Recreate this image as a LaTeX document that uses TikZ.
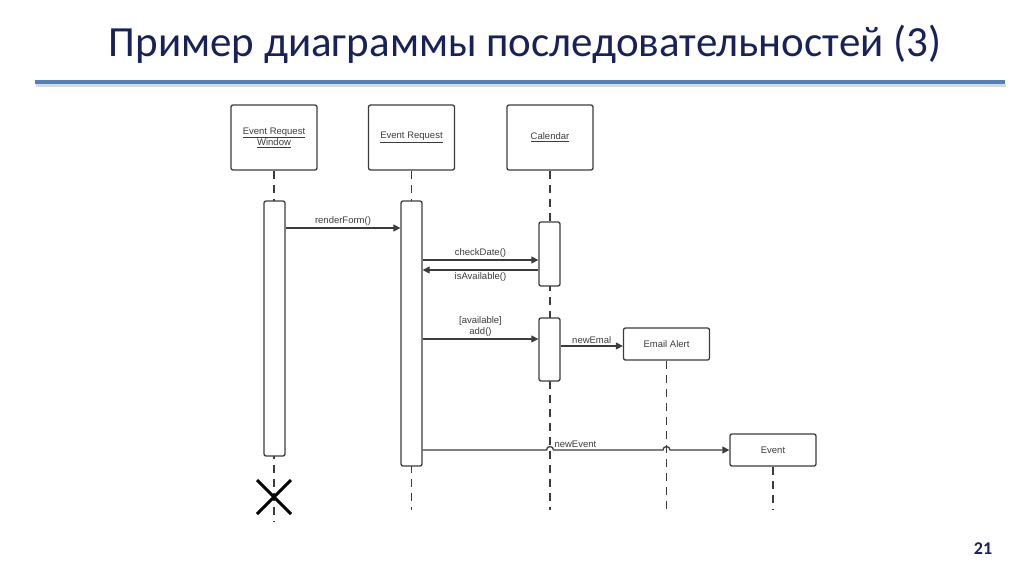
\documentclass[tikz,border=0pt]{standalone}
\usepackage{fontspec}
\setmainfont{Liberation Sans}
\newfontfamily\titlefont{Carlito}
\usepackage{tikz}
\usetikzlibrary{
        arrows.meta,
        positioning
    }
\definecolor{titleblue}{RGB}{23,33,90}
\definecolor{ruleblue}{RGB}{79,129,189}
\definecolor{umlgray}{RGB}{60,60,60}

\begin{document}
\begin{tikzpicture}
[x=1pt, y=-1pt,
baseshape/.style={draw=umlgray, line width=1.3pt, rounded corners=2pt, font=\fontsize{9.5}{11}\selectfont, text=umlgray, align=center, inner sep=0pt},
object/.style={baseshape, minimum width=86pt, minimum height=65pt},
smallobject/.style={baseshape, minimum width=86pt, minimum height=32pt},
bar/.style={baseshape, fill=white, minimum width=21pt},
lifeline/.style={umlgray, line width=1.3pt, dash pattern=on 8pt off 6pt},
msg/.style={umlgray, line width=1.3pt, -{Triangle[length=7pt,width=7pt]}},
label/.style={font=\fontsize{9.5}{11}\selectfont, text=umlgray, inner sep=1.5pt, align=center},
]
\useasboundingbox [fill=white] (0,0) rectangle (1024,574);

% title and rule
\node (title) [font=\titlefont\fontsize{43}{48}\selectfont, text=titleblue] at (525,44) {Пример диаграммы последовательностей (3)};
\draw [line width=3pt, black!15] (36,85) -- (1006,85);
\draw [line width=4pt, ruleblue] (35,82) -- (1005,82);
\node (pagenum) [font=\titlefont\bfseries\fontsize{18}{20}\selectfont, text=titleblue] at (983,549) {21};

% objects
\node (erw) [object] at (274,137.5) {\underline{Event Request}\\\underline{Window}};
\node (er) [object] at (411.5,137.5) {\underline{Event Request}};
\node (cal) [object] at (550,137.5) {\underline{Calendar}};

% lifeline ends
\coordinate (erwend) at (274,521);
\coordinate (erend) at (411.5,510);
\coordinate (calend) at (550,510);
\coordinate (emailend) at (666.5,510);
\coordinate (eventend) at (773,510);

% lifelines (drawn before the bars)
\draw [lifeline] (erw.south) -- (erwend);
\draw [lifeline] (er.south) -- (erend);
\draw [lifeline] (cal.south) -- (calend);

% activation bars
\node (erwbar) [bar, minimum height=255pt] at (274.5,328.5) {};
\node (erbar) [bar, minimum height=265pt] at (411.5,333.5) {};
\node (calbarA) [bar, minimum height=64pt] at (549.5,254) {};
\node (calbarB) [bar, minimum height=63pt] at (549.5,349.5) {};

% created objects
\node (email) [smallobject] at (666.5,344) {Email Alert};
\node (event) [smallobject] at (773,450) {Event};
\draw [lifeline] (email.south) -- (emailend);
\draw [lifeline] (event.south) -- (eventend);

% destruction
\node (destroy) at (274,497) {};
\draw [line width=3pt] (destroy.center) +(-17,-17) -- +(17,17);
\draw [line width=3pt] (destroy.center) +(-17,17) -- +(17,-17);

% messages
\draw [msg] (erwbar.east |- 0,228) -- node[label, above]{renderForm()} (erbar.west |- 0,228);
\draw [msg] (erbar.east |- 0,260) -- node[label, above]{checkDate()} (calbarA.west |- 0,260);
\draw [msg] (calbarA.west |- 0,270) -- node[label, below]{isAvailable()} (erbar.east |- 0,270);
\draw [msg] (erbar.east |- 0,339) -- node[label, above]{[available]\\add()} (calbarB.west |- 0,339);
\draw [msg] (calbarB.east |- 0,346) -- node[label, above]{newEmal} (email.west |- 0,346);
\draw [msg] (erbar.east |- 0,450) -- (546.5,450) arc (180:360:3.5) -- node[label, above, pos=0.2]{newEvent} (663,450) arc (180:360:3.5) -- (event.west);

\end{tikzpicture}
\end{document}
